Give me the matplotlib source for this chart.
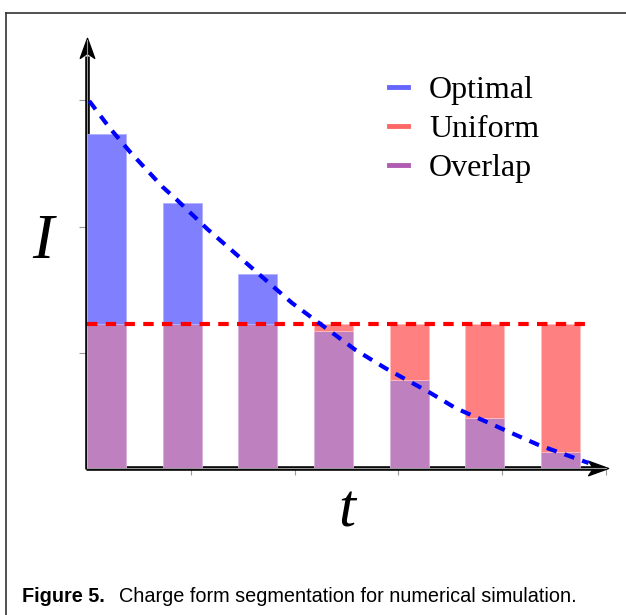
import matplotlib
matplotlib.use("Agg")
import matplotlib.pyplot as plt
from matplotlib.lines import Line2D
from matplotlib.path import Path
import numpy as np

# ---- data ----
bar_pos = [0, 1, 2, 3, 4, 5, 6]
optimal = [3.34, 2.65, 1.94, 1.37, 0.88, 0.50, 0.16]
uniform_level = 1.44
uniform = [uniform_level] * 7
curve_x = [0.03, 0.30, 0.57, 1.00, 1.19, 1.59, 2.71, 3.55, 3.94, 4.54, 4.87, 5.61, 5.97, 6.63]
curve_y = [3.67, 3.40, 3.16, 2.81, 2.68, 2.39, 1.65, 1.18, 1.00, 0.75, 0.60, 0.35, 0.23, 0.05]
legend_labels = ["Optimal", "Uniform", "Overlap"]
x_ticks = [1.37, 2.75, 4.11, 5.48, 6.86]
y_ticks = [1.15, 2.41, 3.68]

C_OPT = "#8080FF"
C_UNI = "#FF8080"
C_OVL = "#BF80BF"

W, H = 626, 615
fig = plt.figure(figsize=(W / 100, H / 100), dpi=100)

# outer frame (top and left visible)
fig.add_artist(Line2D([6 / W, 1.0], [1 - 13 / H, 1 - 13 / H], color="#333333", lw=1.2))
fig.add_artist(Line2D([6 / W, 6 / W], [1 - 13 / H, 0.0], color="#333333", lw=1.2))

ax = fig.add_axes([87 / W, (H - 468) / H, (606 - 87) / W, (468 - 40) / H])
ax.set_xlim(0, 6.856)
ax.set_ylim(0, 4.28)
ax.patch.set_alpha(0)

for s in ["top", "right"]:
    ax.spines[s].set_visible(False)
for s in ["left", "bottom"]:
    ax.spines[s].set_color("#999999")
    ax.spines[s].set_linewidth(0.8)

bw = 0.515
for x, o, u in zip(bar_pos, optimal, uniform):
    lo = min(o, u)
    ax.bar(x, lo, width=bw, align="edge", color=C_OVL, edgecolor="#D8B0D8", linewidth=0.6, zorder=3)
    if o > u:
        ax.bar(x, o - u, bottom=u, width=bw, align="edge", color=C_OPT, edgecolor="#B0B0FF", linewidth=0.6, zorder=3)
    else:
        ax.bar(x, u - o, bottom=o, width=bw, align="edge", color=C_UNI, edgecolor="#FFC0C0", linewidth=0.6, zorder=3)

# axis lines with notched arrowheads
ax.plot([0, 0], [-0.01, 4.12], color="black", lw=3.3, clip_on=False, zorder=2, solid_capstyle="butt")
ax.plot([-0.01, 6.70], [0, 0], color="black", lw=3.3, clip_on=False, zorder=2, solid_capstyle="butt")
right_head = Path([(1, 0), (-0.8, 0.65), (-0.35, 0), (-0.8, -0.65), (1, 0)],
                  [Path.MOVETO, Path.LINETO, Path.LINETO, Path.LINETO, Path.CLOSEPOLY])
up_head = Path([(0, 1), (0.65, -0.8), (0, -0.35), (-0.65, -0.8), (0, 1)],
               [Path.MOVETO, Path.LINETO, Path.LINETO, Path.LINETO, Path.CLOSEPOLY])
ax.plot([6.74], [0], marker=right_head, markersize=16, color="black", clip_on=False, zorder=2)
ax.plot([0], [4.19], marker=up_head, markersize=16, color="black", clip_on=False, zorder=2)

# dashed lines
ax.plot([0, 6.65], [uniform_level, uniform_level], color="red", lw=3, dashes=(2.5, 2), zorder=5,
        dash_capstyle="butt")
ax.plot(curve_x, curve_y, color="blue", lw=3, dashes=(2.5, 2), zorder=5, dash_capstyle="butt",
        clip_on=False)

ax.set_xticks(x_ticks)
ax.set_yticks(y_ticks)
ax.set_xticklabels([])
ax.set_yticklabels([])
ax.tick_params(axis="x", direction="out", length=5, width=0.8, color="#999999")
ax.tick_params(axis="y", direction="out", length=6, width=0.8, color="#999999")

# axis labels
fig.text(43 / W, 1 - 243 / H, "I", fontsize=46, family="Liberation Serif", style="italic",
         ha="center", va="center")
fig.text(347 / W, 1 - 512 / H, "t", fontsize=44, family="Liberation Serif", style="italic",
         ha="center", va="center")

# legend
handles = [Line2D([], [], color="#6666FF", lw=3.5),
           Line2D([], [], color="#FF6666", lw=3.5),
           Line2D([], [], color="#B05CB0", lw=3.5)]
leg = fig.legend(handles, legend_labels, loc="upper left", bbox_to_anchor=(389 / W, 1 - 76 / H),
                 frameon=False, prop=dict(family="Liberation Serif", size=23),
                 handlelength=0.6, handletextpad=0.65, labelspacing=0.3, borderpad=0,
                 borderaxespad=0)

# caption
fig.text(22 / W, 1 - 597 / H, "Figure 5.", fontsize=14.3, family="Liberation Sans", weight="bold",
         ha="left", va="center")
fig.text(119 / W, 1 - 597 / H, "Charge form segmentation for numerical simulation.", fontsize=14.35,
         family="Liberation Sans", ha="left", va="center")

fig.savefig("out.png", dpi=100)
